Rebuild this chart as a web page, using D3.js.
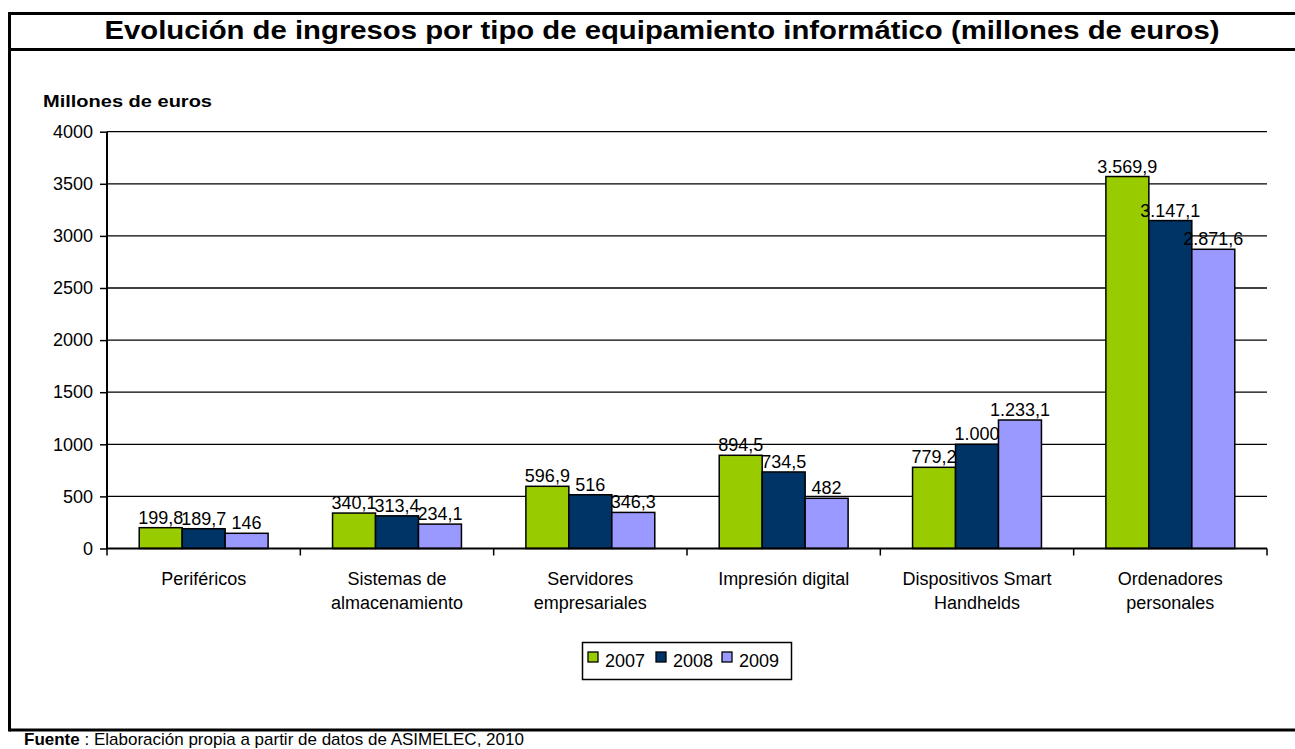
<!DOCTYPE html>
<html><head><meta charset="utf-8">
<script src="https://cdn.jsdelivr.net/npm/d3@7"></script>
<style>body{margin:0;background:#fff}svg{display:block;font-family:"Liberation Sans",Arial,sans-serif}</style>
</head><body>
<svg id="c" width="1295" height="749"></svg>
<script>
const categories = [["Periféricos"],["Sistemas de","almacenamiento"],["Servidores","empresariales"],["Impresión digital"],["Dispositivos Smart","Handhelds"],["Ordenadores","personales"]];
const seriesNames = ["2007","2008","2009"];
const v2007 = [199.8, 340.1, 596.9, 894.5, 779.2, 3569.9];
const v2008 = [189.7, 313.4, 516, 734.5, 1000, 3147.1];
const v2009 = [146, 234.1, 346.3, 482, 1233.1, 2871.6];
const yTicks = [0,500,1000,1500,2000,2500,3000,3500,4000];
const colors = ["#99CC00","#003366","#9999FF"];
const series = [v2007, v2008, v2009];

(function(){
const svg = d3.select("#c");
const pL = 107, pR = 1267, pT = 131.7, pB = 548.5;
const FS = 18;

// frame
svg.append("line").attr("x1",9.5).attr("x2",1295).attr("y1",13.5).attr("y2",13.5).attr("stroke","#000").attr("stroke-width",3);
svg.append("line").attr("x1",9.5).attr("x2",1295).attr("y1",49.5).attr("y2",49.5).attr("stroke","#000").attr("stroke-width",3);
svg.append("line").attr("x1",9.5).attr("x2",1295).attr("y1",730).attr("y2",730).attr("stroke","#000").attr("stroke-width",3);
svg.append("line").attr("x1",9.5).attr("x2",9.5).attr("y1",12).attr("y2",731.5).attr("stroke","#000").attr("stroke-width",3);

svg.append("text").attr("x",662).attr("y",38.5).attr("text-anchor","middle")
  .attr("font-size",26.5).attr("font-weight","bold").attr("textLength",1115).attr("lengthAdjust","spacingAndGlyphs")
  .text("Evolución de ingresos por tipo de equipamiento informático (millones de euros)");

svg.append("text").attr("x",43).attr("y",107).attr("font-size",16.5).attr("font-weight","bold")
  .attr("textLength",169).attr("lengthAdjust","spacingAndGlyphs").text("Millones de euros");

const y = d3.scaleLinear().domain([0,4000]).range([pB, pT]);
const x = d3.scaleBand().domain(d3.range(categories.length)).range([pL,pR]).padding(0);
const barW = x.bandwidth()/4.5;

// gridlines
svg.append("g").selectAll("line").data(yTicks.filter(d=>d>0)).join("line")
  .attr("x1",pL).attr("x2",pR).attr("y1",d=>y(d)).attr("y2",d=>y(d))
  .attr("stroke","#000").attr("stroke-width",1.3);

// y axis
const ya = svg.append("g").attr("transform",`translate(${pL},0)`)
  .call(d3.axisLeft(y).tickValues(yTicks).tickSize(7).tickPadding(7).tickFormat(d3.format("d")));
ya.select(".domain").attr("stroke-width",2).attr("d",`M0,${pT}V${pB+0.5}`);
ya.selectAll(".tick line").attr("stroke-width",1.5);
ya.selectAll("text").attr("font-size",FS).attr("fill","#000").attr("font-family","Liberation Sans, Arial, sans-serif");

// bars
const fmt = v => {
  const parts = v.toFixed(v % 1 === 0 ? 0 : 1).split(".");
  parts[0] = parts[0].replace(/\B(?=(\d{3})+(?!\d))/g, ".");
  return parts.join(",");
};
series.forEach((vals,si)=>{
  const g = svg.append("g");
  g.selectAll("rect").data(vals).join("rect")
    .attr("x",(d,i)=>x(i)+x.bandwidth()/2 - 1.5*barW + si*barW)
    .attr("y",d=>y(d)).attr("width",barW).attr("height",d=>y(0)-y(d))
    .attr("fill",colors[si]).attr("stroke","#000").attr("stroke-width",1.5);
  g.selectAll("text").data(vals).join("text")
    .attr("x",(d,i)=>x(i)+x.bandwidth()/2 - barW + si*barW)
    .attr("y",d=>y(d)-4).attr("text-anchor","middle").attr("font-size",FS)
    .text(d=>fmt(d));
});

// x axis
svg.append("line").attr("x1",pL-1).attr("x2",pR).attr("y1",pB).attr("y2",pB).attr("stroke","#000").attr("stroke-width",2);
svg.append("g").selectAll("line").data(d3.range(categories.length+1)).join("line")
  .attr("x1",i=>pL+i*x.step()).attr("x2",i=>pL+i*x.step()).attr("y1",pB).attr("y2",pB+7)
  .attr("stroke","#000").attr("stroke-width",1.5);
const cl = svg.append("g").selectAll("text").data(categories).join("text")
  .attr("x",(d,i)=>x(i)+x.bandwidth()/2).attr("y",585).attr("text-anchor","middle").attr("font-size",FS);
cl.each(function(d){
  const t = d3.select(this);
  d.forEach((line,j)=>t.append("tspan").attr("x",t.attr("x")).attr("dy",j?24:0).text(line));
});

// legend
const lg = svg.append("g");
lg.append("rect").attr("x",582.5).attr("y",642.5).attr("width",209).attr("height",37).attr("fill","#fff").attr("stroke","#000").attr("stroke-width",1.5);
const lx = [588, 656, 722];
seriesNames.forEach((n,i)=>{
  lg.append("rect").attr("x",lx[i]).attr("y",652).attr("width",10).attr("height",10).attr("fill",colors[i]).attr("stroke","#000").attr("stroke-width",1.3);
  lg.append("text").attr("x",lx[i]+17).attr("y",667).attr("font-size",FS).text(n);
});

// source
const src = svg.append("text").attr("x",24).attr("y",745).attr("font-size",17);
src.append("tspan").attr("font-weight","bold").text("Fuente");
src.append("tspan").text(" : Elaboración propia a partir de datos  de ASIMELEC, 2010");
})();
</script>
</body></html>
